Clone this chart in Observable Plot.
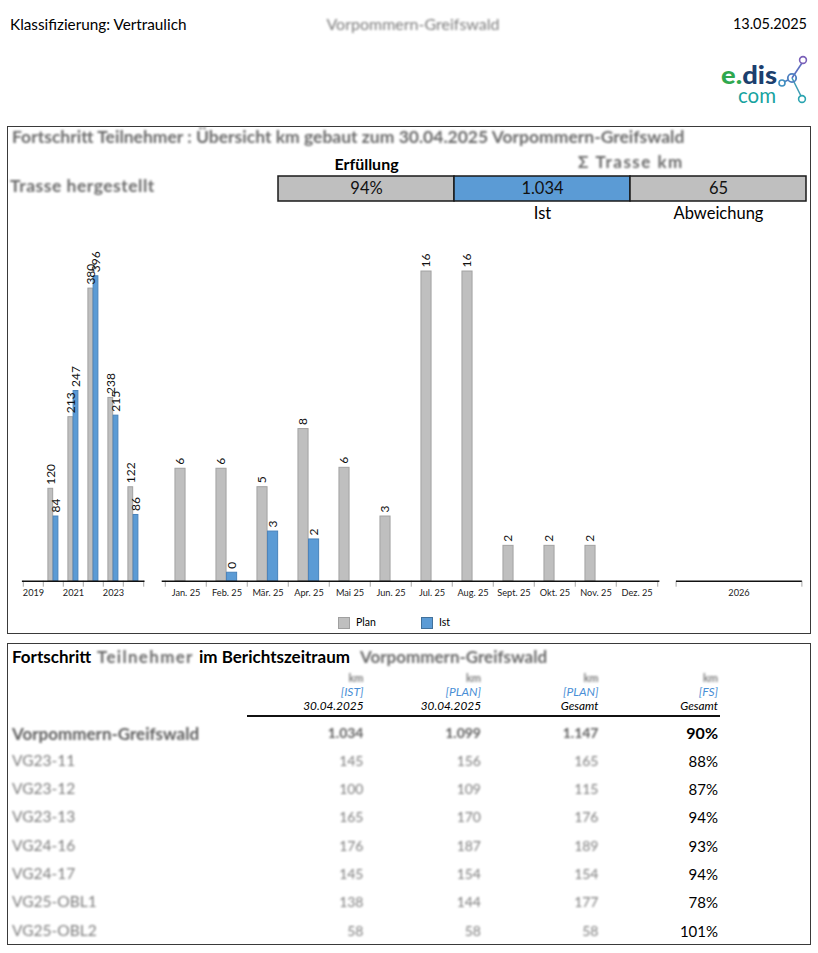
<!DOCTYPE html>
<html><head><meta charset="utf-8">
<script src="https://cdn.jsdelivr.net/npm/d3@7"></script>
<script src="https://cdn.jsdelivr.net/npm/@observablehq/plot@0.6"></script>
<style>
body{margin:0;width:818px;height:953px;position:relative;background:#fff;font-family:Lato,"Noto Sans",sans-serif;color:#000;overflow:hidden}
.a{position:absolute;white-space:nowrap;line-height:1}
.blur{color:#7d7d7d;filter:blur(1.3px)}
.box{position:absolute;border:1.5px solid #3a3a3a;box-sizing:border-box}
.pw{position:absolute}
.pw svg{overflow:visible;max-width:none}
.sw{position:absolute;box-sizing:border-box;border:1.5px solid}
</style></head><body>
<script>
// ---------- data ----------
const years = ["2019","2020","2021","2022","2023","2024"];
const yearTickLabels = ["2019","","2021","","2023",""];
const yearPlan = [null,120,213,380,238,122];
const yearIst  = [null,84,247,396,215,86];

const months = ["Jan. 25","Feb. 25","Mär. 25","Apr. 25","Mai 25","Jun. 25","Jul. 25","Aug. 25","Sept. 25","Okt. 25","Nov. 25","Dez. 25"];
const monthPlan = [5.98,5.98,5.0,8.09,6.03,3.44,16.47,16.47,1.88,1.88,1.88,null];
const monthIst  = [null,0.45,2.64,2.22,null,null,null,null,null,null,null,null];

const future = ["2026"];
const futurePlan = [null];
const futureIst = [null];

const kpiNames = ["Erfüllung","Ist","Abweichung"];
const kpiValues = ["94%","1.034","65"];

const seriesNames = ["Plan","Ist"];

const rowNames = ["Vorpommern-Greifswald","VG23-11","VG23-12","VG23-13","VG24-16","VG24-17","VG25-OBL1","VG25-OBL2"];
const rowIst = ["1.034","145","100","165","176","145","138","58"];
const rowPlanDate = ["1.099","156","109","170","187","154","144","58"];
const rowPlanTotal = ["1.147","165","115","176","189","154","177","58"];
const rowFS = ["90%","88%","87%","94%","93%","94%","78%","101%"];

const colHeadTop = ["km","km","km","km"];
const colHeadTag = ["[IST]","[PLAN]","[PLAN]","[FS]"];
const colHeadSub = ["30.04.2025","30.04.2025","Gesamt","Gesamt"];

// ---------- helpers ----------
function label(txt, x, y, o = {}) {
  const d = document.createElement("div");
  d.className = "a" + (o.blur ? " blur" : "");
  d.textContent = txt;
  d.style.left = x + "px"; d.style.top = y + "px";
  d.style.fontSize = (o.size || 13) + "px";
  if (o.weight) d.style.fontWeight = o.weight;
  if (o.italic) d.style.fontStyle = "italic";
  if (o.color) d.style.color = o.color;
  if (o.ls) d.style.letterSpacing = o.ls + "px";
  const tx = o.anchor === "middle" ? "-50%" : o.anchor === "end" ? "-100%" : "0";
  d.style.transform = `translate(${tx},-55%)`;
  document.body.appendChild(d);
  return d;
}
function box(l, t, w, h) {
  const d = document.createElement("div");
  d.className = "box";
  Object.assign(d.style, {left: l + "px", top: t + "px", width: w + "px", height: h + "px"});
  document.body.appendChild(d);
}
function place(node, l, t) {
  const w = document.createElement("div");
  w.className = "pw";
  w.style.left = l + "px"; w.style.top = t + "px";
  w.appendChild(node);
  document.body.appendChild(w);
}

// ---------- header ----------
label("Klassifizierung: Vertraulich", 10, 25, {size: 15.3});
label("Vorpommern-Greifswald", 413, 25, {size: 16, anchor: "middle", blur: true});
label("13.05.2025", 807, 25, {size: 14.5, anchor: "end"});

// logo
document.body.insertAdjacentHTML("beforeend", `
<svg style="position:absolute;left:712px;top:50px" width="104" height="60">
  <text x="9" y="34" font-family="Lato" font-weight="900" font-size="25" textLength="56" lengthAdjust="spacingAndGlyphs"><tspan fill="#2fa84f">e.</tspan><tspan fill="#1c3f6e">dis</tspan></text>
  <text x="26" y="53" font-family="Lato" font-size="22" fill="#17a3a0" textLength="38" lengthAdjust="spacingAndGlyphs">com</text>
  <line x1="80" y1="28" x2="90" y2="13" stroke="#5d6fc0" stroke-width="1.6"/>
  <line x1="80" y1="28" x2="89" y2="46" stroke="#3f9cb5" stroke-width="1.6"/>
  <line x1="72" y1="32" x2="76" y2="30" stroke="#4d7fc0" stroke-width="1.6"/>
  <circle cx="70" cy="33" r="3" fill="none" stroke="#3f8fc0" stroke-width="1.6"/>
  <circle cx="80" cy="28" r="4.2" fill="none" stroke="#4d7fc0" stroke-width="1.8"/>
  <circle cx="91" cy="10" r="3.4" fill="none" stroke="#7a5fb8" stroke-width="1.6"/>
  <circle cx="90" cy="49" r="3.4" fill="none" stroke="#2aa4b0" stroke-width="1.6"/>
</svg>`);

// ---------- chart box ----------
box(7, 126, 804, 508);
label("Fortschritt Teilnehmer : Übersicht km gebaut zum 30.04.2025 Vorpommern-Greifswald", 12, 138, {size: 17.5, weight: 700, blur: true, color: "#6a6a6a"});
label("Σ Trasse km", 578, 162, {size: 17, weight: 700, blur: true, ls: 1.5, color: "#6a6a6a"});
label("Trasse hergestellt", 10, 187, {size: 17.5, weight: 700, blur: true, ls: 0.5, color: "#6a6a6a"});

// KPI strip
const kpi = kpiNames.map((n, i) => ({n, v: kpiValues[i], fill: n === "Ist" ? "#5b9bd5" : "#bfbfbf"}));
place(Plot.plot({
  width: 530, height: 76, marginLeft: 1, marginRight: 1, marginTop: 26, marginBottom: 25,
  style: {fontFamily: "Lato, sans-serif", background: "transparent", color: "#000"},
  x: {type: "band", domain: kpiNames, padding: 0, axis: null},
  color: {type: "identity"},
  marks: [
    Plot.cell(kpi, {x: "n", fill: "fill", stroke: "#1a1a1a", strokeWidth: 1.5, inset: 0}),
    Plot.text(kpi, {x: "n", text: "v", fontSize: 16.5, fill: "#111"}),
    Plot.text(kpi.filter(d => d.n === "Erfüllung"), {x: "n", text: "n", frameAnchor: "top", lineAnchor: "middle", dy: -12, fontSize: 16, fontWeight: "bold"}),
    Plot.text(kpi.filter(d => d.n !== "Erfüllung"), {x: "n", text: "n", frameAnchor: "bottom", lineAnchor: "middle", dy: 12, fontSize: 16.5})
  ]
}), 277, 150);

// ---------- bar panels ----------
const plotTop = 240, plotH = 366, mTop = 32.7, mBottom = 25.3;
const fmt = d3.format(".0f");
function panel({left, width, mL, mR, periods, tickLabels, plan, ist, yMax}) {
  const bw = (width - mL - mR) / periods.length;
  const planData = periods.map((p, i) => ({p, v: plan[i]})).filter(d => d.v != null);
  const istData = periods.map((p, i) => ({p, v: ist[i]})).filter(d => d.v != null);
  const lab = new Map(periods.map((p, i) => [p, tickLabels[i]]));
  const pl = Plot.plot({
    width, height: plotH, marginLeft: mL, marginRight: mR, marginTop: mTop, marginBottom: mBottom,
    style: {fontFamily: "Lato, sans-serif", background: "transparent", color: "#222"},
    x: {type: "band", domain: periods, padding: 0, label: null},
    y: {domain: [0, yMax], axis: null, label: null},
    marks: [
      Plot.barY(planData, {x: "p", y: "v", fill: "#bfbfbf", stroke: "#a2a2a2", strokeWidth: 1, insetLeft: bw * 0.24, insetRight: bw * 0.505}),
      Plot.barY(istData, {x: "p", y: "v", fill: "#5b9bd5", stroke: "#4a83bb", strokeWidth: 1, insetLeft: bw * 0.495, insetRight: bw * 0.25}),
      Plot.text(planData, {x: "p", y: "v", text: d => fmt(d.v), rotate: -90, textAnchor: "start", lineAnchor: "middle", dx: -bw * 0.1325, dy: -4, fontSize: 12, fill: "#111"}),
      Plot.text(istData, {x: "p", y: "v", text: d => fmt(d.v), rotate: -90, textAnchor: "start", lineAnchor: "middle", dx: bw * 0.1225, dy: -4, fontSize: 12, fill: "#111"}),
      Plot.axisX({tickSize: 0, tickPadding: 8, fontSize: 9.2, tickFormat: d => lab.get(d), fill: "#222", label: null}),
      Plot.axisX({text: null, tickSize: 6, dx: -bw / 2, stroke: "#a8a8a8", label: null}),
      Plot.axisX({ticks: [periods[periods.length - 1]], text: null, tickSize: 6, dx: bw / 2, stroke: "#a8a8a8", label: null}),
      Plot.ruleY([0], {stroke: "#111", strokeWidth: 1.5})
    ]
  });
  place(pl, left, plotTop);
}
panel({left: 0, width: 150, mL: 21.9, mR: 5.5, periods: years, tickLabels: yearTickLabels, plan: yearPlan, ist: yearIst, yMax: 400});
panel({left: 150, width: 515, mL: 11.7, mR: 5.6, periods: months, tickLabels: months, plan: monthPlan, ist: monthIst, yMax: 16.38});
panel({left: 665, width: 145, mL: 11, mR: 8.2, periods: future, tickLabels: future, plan: futurePlan, ist: futureIst, yMax: 16.38});

// legend
const legendColors = [["#bfbfbf", "#a0a0a0"], ["#5b9bd5", "#41719c"]];
const legendX = [338, 421];
seriesNames.forEach((s, i) => {
  const sw = document.createElement("div");
  sw.className = "sw";
  Object.assign(sw.style, {left: legendX[i] + "px", top: "617px", width: "11.5px", height: "12px", background: legendColors[i][0], borderColor: legendColors[i][1]});
  document.body.appendChild(sw);
  label(s, legendX[i] + 18, 623, {size: 10.5});
});

// ---------- table ----------
box(7, 643, 804, 302);
label("Fortschritt", 12, 657, {size: 17, weight: 700});
label("Teilnehmer", 97, 657, {size: 17, weight: 700, blur: true, ls: 1.3, color: "#6a6a6a"});
label("im Berichtszeitraum", 199, 657, {size: 17, weight: 700});
label("Vorpommern-Greifswald", 360, 657, {size: 17, weight: 700, blur: true, color: "#6a6a6a"});

const colRight = [363.5, 481, 598.5, 718];
colRight.forEach((x, i) => {
  label(colHeadTop[i], x, 678, {size: 11, anchor: "end", blur: true, weight: 700});
  label(colHeadTag[i], x, 692.5, {size: 12, anchor: "end", italic: true, color: "#4a8fd6"});
  label(colHeadSub[i], x, 706, {size: 11.8, anchor: "end", italic: true});
});
const rule = document.createElement("div");
Object.assign(rule.style, {position: "absolute", left: "247px", top: "715px", width: "473px", height: "1.5px", background: "#111"});
document.body.appendChild(rule);

const rowY = [734, 761.5, 790, 818.3, 846.7, 875, 903.3, 931.7];
rowNames.forEach((n, i) => {
  const y = rowY[i];
  const bold = i === 0 ? 700 : 400;
  label(n, 12, y, {size: i === 0 ? 17 : 15.5, weight: bold, blur: true, color: i === 0 ? "#5e5e5e" : "#7d7d7d"});
  [rowIst, rowPlanDate, rowPlanTotal].forEach((col, j) => {
    label(col[i], colRight[j], y, {size: 14, weight: bold, anchor: "end", blur: true, color: i === 0 ? "#5e5e5e" : "#7d7d7d"});
  });
  label(rowFS[i], colRight[3], y, {size: i === 0 ? 16 : 15, weight: bold, anchor: "end"});
});
</script>
</body></html>
